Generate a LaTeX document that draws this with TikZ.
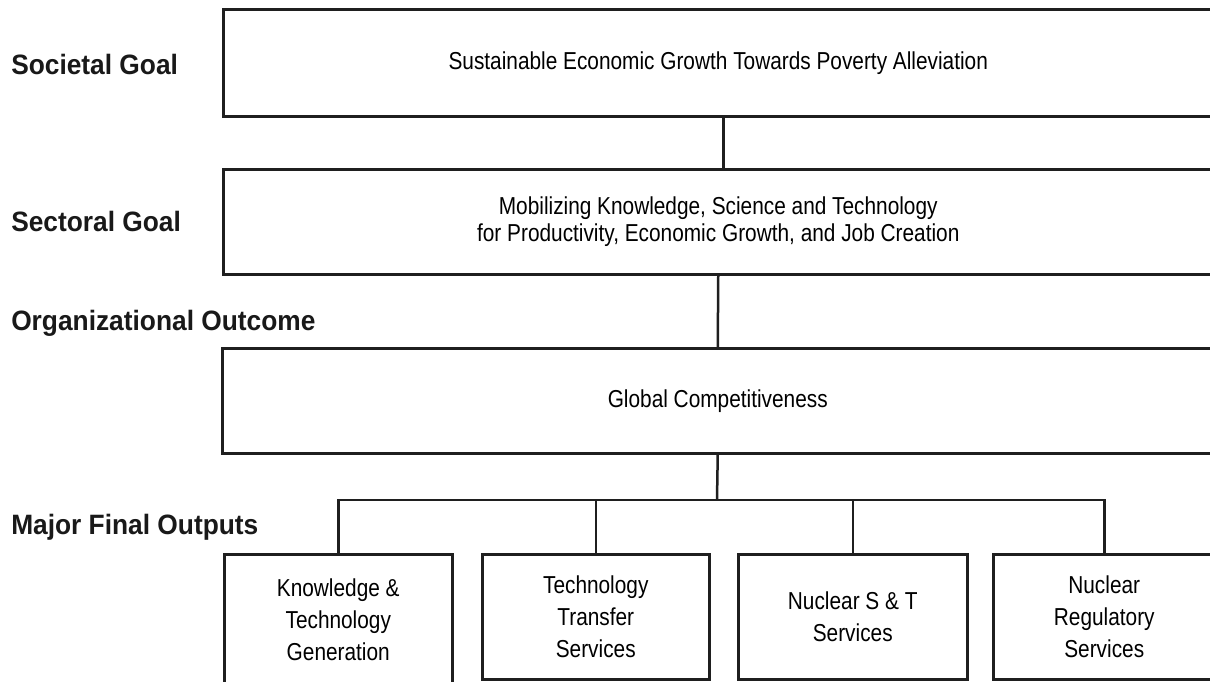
\documentclass[tikz,border=0pt]{standalone}
\usepackage{fontspec}
\setmainfont{Liberation Sans}
\newfontfamily\boxfont[FakeStretch=0.85]{Liberation Sans}
\newfontfamily\lblfont[FakeStretch=0.94]{Liberation Sans Bold}
\begin{document}
\begin{tikzpicture}[x=1pt,y=-1pt,
  line width=2.5pt, draw=black!88,
  bigbox/.style={draw, anchor=north west, inner sep=0pt, align=center,
    font=\boxfont\fontsize{24.5}{27}\selectfont, text=black},
  outbox/.style={draw, anchor=north west, inner sep=0pt, align=center,
    minimum height=125pt, font=\boxfont\fontsize{24.5}{32}\selectfont, text=black},
  lbl/.style={anchor=west, inner sep=0pt, font=\lblfont\fontsize{28}{32}\selectfont, text=black!90}]
\useasboundingbox (0,0) rectangle (1210,681);
\fill[white] (0,0) rectangle (1210,681);

\node[bigbox, minimum width=990pt, minimum height=107pt] (soc) at (222,8)
  {Sustainable Economic Growth Towards Poverty Alleviation};
\node[bigbox, minimum width=990pt, minimum height=105pt] (sec) at (222,168)
  {Mobilizing Knowledge, Science and Technology\\for Productivity, Economic Growth, and Job Creation};
\node[bigbox, minimum width=991pt, minimum height=105pt] (org) at (221,347)
  {Global Competitiveness};

\node[outbox, minimum width=228pt, minimum height=131pt] (kt) at (223,553)
  {Knowledge \&\\Technology\\Generation};
\node[outbox, minimum width=227pt] (tt) at (481,553)
  {Technology\\Transfer\\Services};
\node[outbox, minimum width=229pt] (ns) at (737,553)
  {Nuclear S \& T\\Services};
\node[outbox, minimum width=222pt] (nr) at (992,553)
  {Nuclear\\Regulatory\\Services};

\node[lbl] (l1) at (10,64) {Societal Goal};
\node[lbl] (l2) at (10,221) {Sectoral Goal};
\node[lbl] (l3) at (10,323) {Organizational Outcome};
\node[lbl] (l4) at (10,527) {Major Final Outputs};

\coordinate (bus) at (717,500);
\draw ([xshift=5pt]soc.south) -- ([xshift=5pt]sec.north);
\draw (sec.south) -- (org.north);
\draw (org.south) -- (bus);
\draw (kt.north) -- (kt.north |- bus) -- (nr.north |- bus) -- (nr.north);
\draw (tt.north) -- (tt.north |- bus);
\draw (ns.north) -- (ns.north |- bus);
\end{tikzpicture}
\end{document}
